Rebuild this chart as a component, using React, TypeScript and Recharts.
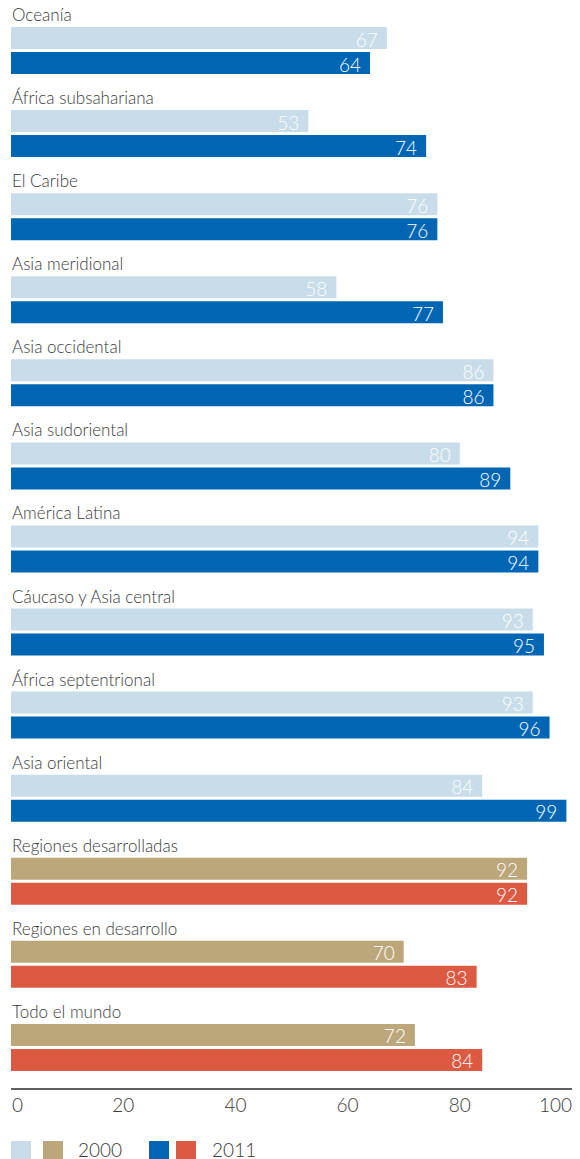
import { BarChart, Bar, XAxis, YAxis, Cell, LabelList } from "recharts";

const regions = [
  "Oceanía",
  "África subsahariana",
  "El Caribe",
  "Asia meridional",
  "Asia occidental",
  "Asia sudoriental",
  "América Latina",
  "Cáucaso y Asia central",
  "África septentrional",
  "Asia oriental",
  "Regiones desarrolladas",
  "Regiones en desarrollo",
  "Todo el mundo",
];
const values2000 = [67, 53, 76, 58, 86, 80, 94, 93, 93, 84, 92, 70, 72];
const values2011 = [64, 74, 76, 77, 86, 89, 94, 95, 96, 99, 92, 83, 84];
const xTicks = [0, 20, 40, 60, 80, 100];
// the last 3 rows are aggregates and use the warm palette
const aggregateFrom = 10;

const FONT = "Lato, 'Open Sans', sans-serif";
const TEXT = "#3a3a3a";
const LIGHT_BLUE = "#c8dcea";
const DARK_BLUE = "#0066b3";
const TAN = "#bca77a";
const RED = "#dd5a42";

const data = regions.map((name, i) => ({ name, y2000: values2000[i], y2011: values2011[i] }));

// region name sits above the first bar of each group
// eslint-disable-next-line @typescript-eslint/no-explicit-any
const RegionLabel = (props: any) => {
  const { x, y, value } = props;
  return (
    <text x={x + 1} y={y - 6} fill={TEXT} fontSize={17} fontWeight={300} fontFamily={FONT}>
      {value}
    </text>
  );
};

// eslint-disable-next-line @typescript-eslint/no-explicit-any
const ValueTick = (props: any) => {
  const { x, y, payload } = props;
  const first = payload.value === xTicks[0];
  const last = payload.value === xTicks[xTicks.length - 1];
  return (
    <text
      x={first ? x + 1 : x}
      y={y + 15}
      textAnchor={first ? "start" : last ? "end" : "middle"}
      fill={TEXT}
      fontSize={19}
      fontWeight={300}
      fontFamily={FONT}
    >
      {payload.value}
    </text>
  );
};

// eslint-disable-next-line @typescript-eslint/no-explicit-any
const ValueLabel = (props: any) => {
  const { x, y, width, height, value } = props;
  return (
    <text
      x={x + width - 9}
      y={y + height / 2 + 1}
      textAnchor="end"
      dominantBaseline="central"
      fill="#ffffff"
      fontSize={19}
      fontWeight={300}
      fontFamily={FONT}
    >
      {value}
    </text>
  );
};

const Swatch = ({ color }: { color: string }) => (
  <div style={{ width: 20, height: 18, background: color }} />
);

export default function App() {
  return (
    <div style={{ position: "absolute", left: 0, top: 0, width: 580, height: 1159, background: "#fff" }}>
      <BarChart
        width={580}
        height={1159}
        data={data}
        layout="vertical"
        margin={{ top: 9, right: 8, bottom: 50, left: 11 }}
        barSize={22}
        barGap={3}
      >
        <XAxis
          type="number"
          domain={[0, 100]}
          ticks={xTicks}
          height={20}
          axisLine={{ stroke: "#2b2b2b", strokeWidth: 1.5 }}
          tickLine={false}
          tick={<ValueTick />}
          interval={0}
        />
        <YAxis type="category" dataKey="name" width={0} hide />
        <Bar dataKey="y2000" isAnimationActive={false}>
          {data.map((_, i) => (
            <Cell key={i} fill={i >= aggregateFrom ? TAN : LIGHT_BLUE} />
          ))}
          <LabelList dataKey="y2000" content={<ValueLabel />} />
          <LabelList dataKey="name" content={<RegionLabel />} />
        </Bar>
        <Bar dataKey="y2011" isAnimationActive={false}>
          {data.map((_, i) => (
            <Cell key={i} fill={i >= aggregateFrom ? RED : DARK_BLUE} />
          ))}
          <LabelList dataKey="y2011" content={<ValueLabel />} />
        </Bar>
      </BarChart>
      <div
        style={{
          position: "absolute",
          left: 11,
          top: 1141,
          display: "flex",
          alignItems: "center",
          fontFamily: FONT,
          fontWeight: 300,
          fontSize: 19,
          color: TEXT,
          lineHeight: "18px",
        }}
      >
        <Swatch color={LIGHT_BLUE} />
        <div style={{ width: 12 }} />
        <Swatch color={TAN} />
        <span style={{ marginLeft: 15, marginRight: 27 }}>2000</span>
        <Swatch color={DARK_BLUE} />
        <div style={{ width: 7 }} />
        <Swatch color={RED} />
        <span style={{ marginLeft: 16 }}>2011</span>
      </div>
    </div>
  );
}
